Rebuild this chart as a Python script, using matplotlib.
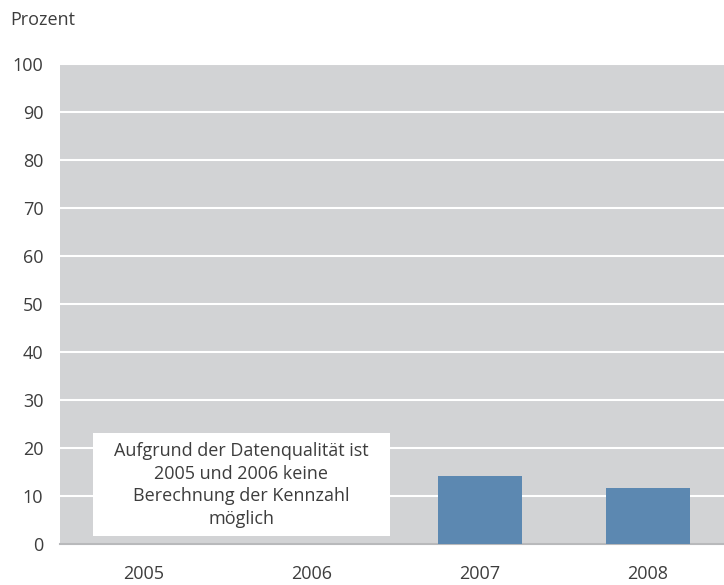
import matplotlib.pyplot as plt
from matplotlib.patches import Rectangle

plt.rcParams['font.family'] = ['Open Sans', 'DejaVu Sans']

years = ['2005', '2006', '2007', '2008']
values = [0, 0, 14.2, 11.7]
yticks = list(range(0, 101, 10))
note = 'Aufgrund der Datenqualität ist\n2005 und 2006 keine\nBerechnung der Kennzahl\nmöglich'

fig = plt.figure(figsize=(7.24, 5.85), dpi=100)
# plot area runs a little past the right edge of the figure, as in the original
ax = fig.add_axes([60 / 724, 1 - 544 / 585, 672 / 724, 480 / 585])
ax.set_facecolor('#d2d3d5')

x = range(len(years))
ax.bar([i for i, v in zip(x, values) if v > 0], [v for v in values if v > 0],
       width=0.5, color='#5c88b1', zorder=3)

ax.set_xlim(-0.5, 3.5)
ax.set_ylim(0, 100)
ax.set_yticks(yticks)
ax.set_xticks(list(x))
ax.set_xticklabels(years)
ax.yaxis.grid(True, color='white', linewidth=1.5, zorder=1)
ax.set_axisbelow(True)
for s in ['top', 'right', 'left']:
    ax.spines[s].set_visible(False)
ax.spines['bottom'].set_color('#b8b9bb')
ax.spines['bottom'].set_linewidth(1.5)
ax.tick_params(length=0, labelsize=13, colors='#3d3d3d')
ax.tick_params(axis='y', pad=12)
ax.tick_params(axis='x', pad=15)

# note box over 2005/2006
ax.add_patch(Rectangle((-0.304, 1.7), 1.768, 21.4, facecolor='white',
                       edgecolor='none', zorder=4))
ax.text(0.58, 12.3, note, ha='center', va='center', fontsize=13,
        color='#3d3d3d', linespacing=1.35, zorder=5)

fig.text(10 / 724, 1 - 20 / 585, 'Prozent', fontsize=13, color='#3d3d3d',
         va='center', ha='left')

fig.savefig('out.png', dpi=100)
